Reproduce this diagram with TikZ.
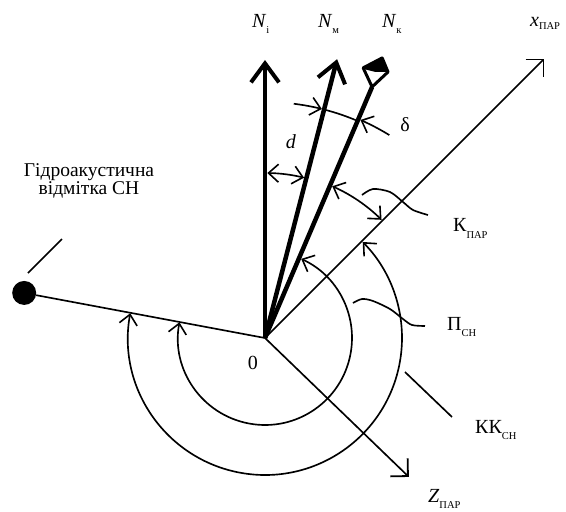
\documentclass[tikz,border=0pt]{standalone}
\usepackage{fontspec}
\setmainfont{Liberation Serif}
\usetikzlibrary{arrows.meta}
\newcommand{\lsub}[2][-6pt]{\raisebox{#1}{\fontsize{10.5}{10.5}\selectfont #2}}
\tikzset{
  barb/.tip={Straight Barb[length=10pt,width=18pt,line width=1.6pt]},
  axbarb/.tip={Straight Barb[length=12.5pt,width=25pt,line width=1.8pt]},
  nbarb/.tip={Straight Barb[length=19pt,width=28pt,line width=4pt]},
  thinline/.style={line width=1.65pt},
  thickline/.style={line width=4.5pt},
  lbl/.style={font=\fontsize{20}{20}\selectfont, inner sep=0pt},
}
\begin{document}
\begin{tikzpicture}[x=1pt,y=1pt]
\useasboundingbox (-265,-174) rectangle (301,338);
% points
\coordinate (O) at (0,0);
\coordinate (Ni) at (90:278);
\coordinate (Nm) at (75.5:288);
\coordinate (Nk) at (66.9:273);
\coordinate (X) at (45:395);
\coordinate (Z) at (-44:200);
\node[circle, fill, inner sep=0pt, minimum size=24pt] (dot) at (169.4:245) {};
% thin axes
\draw[thinline] (dot) -- (O);
\draw[thinline, -axbarb] (O) -- (X);
\draw[thinline, -axbarb] (O) -- (Z);
% thick north lines
\draw[thickline, -nbarb] (O) -- (Ni);
\draw[thickline, -nbarb] (O) -- (Nm);
\draw[thickline] (O) -- (Nk);
\begin{scope}[shift={(Nk)}, rotate=66.9]
  \fill (13,15.7) -- (30.6,2.1) -- (20,-8.8) -- (15,3) -- cycle;
  \draw[line width=3pt, line join=round] (0,0) -- (14,15.7) -- (30.6,2.1) -- (20,-8.8) -- cycle;
\end{scope}
% arcs
\draw[thinline, barb-barb] (169.6:87) arc[start angle=169.6, end angle=425.4, radius=87];
\draw[thinline, barb-barb] (169.6:137) arc[start angle=169.6, end angle=404.5, radius=137];
\draw[thinline, barb-barb] (66.1:166) arc[start angle=66.1, end angle=45.4, radius=166];
\draw[thinline, barb-barb] (89.2:165) arc[start angle=89.2, end angle=76.3, radius=165];
% delta
\draw[thinline, -barb] (83:236) arc[start angle=83, end angle=76.05, radius=236];
\draw[thinline] (75.5:236) arc[start angle=75.5, end angle=66.9, radius=236];
\draw[thinline, -barb] (58.5:238) arc[start angle=58.5, end angle=66.35, radius=238];
% labels
\node[lbl, anchor=base west] (lNi) at (-13,310) {\textit{N}\lsub{і}};
\node[lbl, anchor=base west] (lNm) at (53,310) {\textit{N}\lsub{м}};
\node[lbl, anchor=base west] (lNk) at (117,310) {\textit{N}\lsub{к}};
\node[lbl, anchor=base west] (lX) at (265,311) {\textit{x}\lsub[-3pt]{ПАР}};
\node[lbl] (ldelta) at (140,213) {δ};
\node[lbl] (ld) at (26,196) {\textit{d}};
\node[lbl, anchor=base west] (lK) at (188,106) {К\lsub{ПАР}};
\node[lbl, anchor=base west] (lP) at (182,8) {П\lsub{СН}};
\node[lbl] (l0) at (-12,-25) {0};
\node[lbl, anchor=base west] (lKK) at (210,-95) {КК\lsub{СН}};
\node[lbl, anchor=base west] (lZ) at (163,-164) {\textit{Z}\lsub{ПАР}};
\node[lbl, font=\fontsize{19.5}{18.5}\selectfont, align=center, anchor=base] (txt) at (-176,143) {Гідроакустична\\відмітка СН};
% leaders
\coordinate (dotA) at (-237,65);
\coordinate (dotB) at (-203,99);
\draw[thinline] (dotA) -- (dotB);
\coordinate (kkA) at (140,-34);
\coordinate (kkB) at (187,-79);
\draw[thinline] (kkA) -- (kkB);
\draw[thinline] plot[smooth] coordinates {(97,143) (108,149) (125,146) (138,136) (148,128) (163,123)};
\draw[thinline] plot[smooth] coordinates {(88,35) (97,39) (108,37) (125,29) (138,19) (147,13) (160,12)};
\end{tikzpicture}
\end{document}
